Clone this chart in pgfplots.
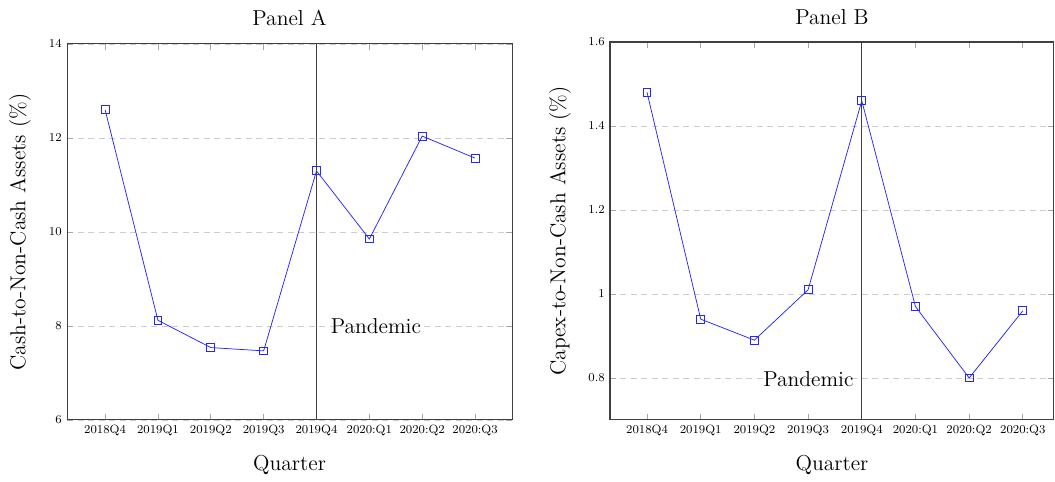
\documentclass[border=0pt]{standalone}
\usepackage{pgfplots}
\pgfplotsset{compat=1.18}

\pgfplotsset{
  quarterpanel/.style={
    scale only axis,
    xmin=-0.72, xmax=7.7,
    xtick={0,1,2,3,4,5,6,7},
    xticklabels={2018Q4,2019Q1,2019Q2,2019Q3,2019Q4,2020:Q1,2020:Q2,2020:Q3},
    tick label style={font=\footnotesize},
    ymajorgrids,
    grid style={dash pattern=on 4pt off 3pt, gray!40, line width=0.5pt},
    axis line style={black!75, line width=0.7pt},
    major tick style={gray!70, line width=0.5pt},
    xlabel={Quarter},
    label style={font=\Large},
    every axis title shift=0pt,
    title style={font=\Large},
    clip=false,
  },
  quarterline/.style={blue!85, line width=0.5pt, mark=square, mark size=2.6pt,
    mark options={solid, blue!85, line width=0.6pt}},
}

\begin{document}
\begin{tikzpicture}
\useasboundingbox (-44.7pt,-40.7pt) rectangle (658.7pt,280pt);

% Panel A: cash relative to non-cash assets
\begin{axis}[
  quarterpanel,
  at={(0pt,0pt)}, anchor=south west,
  width=296.7pt, height=250.7pt,
  ymin=6, ymax=14, ytick={6,8,10,12,14},
  title={Panel A},
  title style={at={(axis description cs:0.5,1.069)}, anchor=center},
  ylabel={Cash-to-Non-Cash Assets (\%)},
  ylabel style={at={(axis description cs:-0.1056,0.5)}, anchor=center},
  xlabel style={at={(axis description cs:0.5,-0.1197)}, anchor=center},
]
\addplot[quarterline] coordinates {
  (0,12.60) (1,8.12) (2,7.54) (3,7.47) (4,11.30) (5,9.85) (6,12.04) (7,11.57)
};
\draw[black!75, line width=0.7pt] (axis cs:4,6) -- (axis cs:4,14);
\node[anchor=west, font=\Large, xshift=6pt] at (axis cs:4,8) {Pandemic};
\end{axis}

% Panel B: capital expenditure relative to non-cash assets
\begin{axis}[
  quarterpanel,
  at={(362pt,0pt)}, anchor=south west,
  width=296pt, height=252pt,
  xmin=-0.69, xmax=7.58,
  ymin=0.7, ymax=1.6, ytick={0.8,1,1.2,1.4,1.6},
  title={Panel B},
  title style={at={(axis description cs:0.5,1.066)}, anchor=center},
  ylabel={Capex-to-Non-Cash Assets (\%)},
  ylabel style={at={(axis description cs:-0.1126,0.5)}, anchor=center},
  xlabel style={at={(axis description cs:0.5,-0.119)}, anchor=center},
]
\addplot[quarterline] coordinates {
  (0,1.48) (1,0.94) (2,0.89) (3,1.01) (4,1.46) (5,0.97) (6,0.80) (7,0.96)
};
\draw[black!75, line width=0.7pt] (axis cs:4,0.7) -- (axis cs:4,1.6);
\node[anchor=east, font=\Large, xshift=-2pt, yshift=-1pt] at (axis cs:4,0.8) {Pandemic};
\end{axis}
\end{tikzpicture}
\end{document}
